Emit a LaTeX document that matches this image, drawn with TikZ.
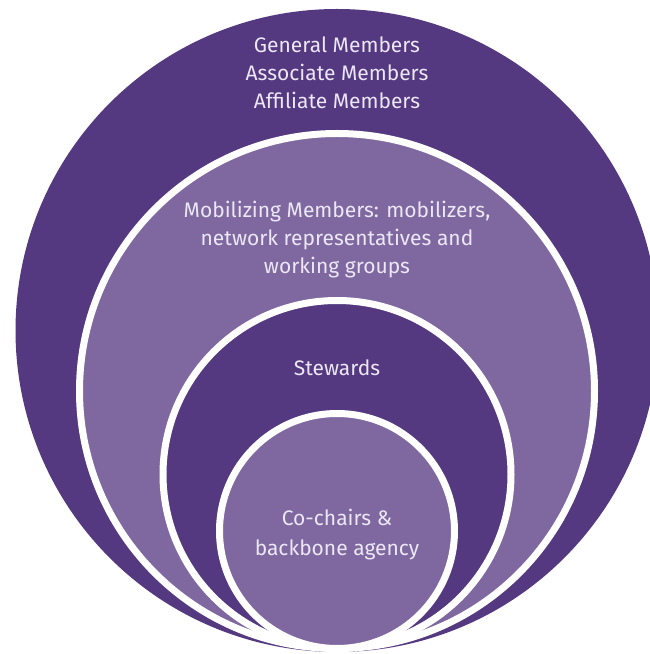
\documentclass[tikz,border=0pt]{standalone}
\usepackage{fontspec}
\setmainfont{Fira Sans}
\usepackage{tikz}
\usetikzlibrary{positioning}
\definecolor{darkplum}{RGB}{84,56,128}
\definecolor{lightplum}{RGB}{127,104,160}
\definecolor{paletext}{RGB}{236,231,245}
\tikzset{
    x=1pt, y=1pt, % one pixel of the reference is one point
    disc/.style={circle, inner sep=0pt, outer sep=0pt}, % plain filled circle
    ring/.style={disc, draw=white, line width=7pt}, % circle with a white rim
    tier/.style={text=paletext, align=center, font=\fontsize{21}{28}\selectfont}, % label of one tier
    }
\begin{document}
\begin{tikzpicture}
        \useasboundingbox (0,0) rectangle (650,654);

        \node[disc, fill=darkplum, minimum size=643pt] (general) at (337,323.5) {};
        \node[ring, fill=lightplum, minimum size=515pt] (mobilizing) at (337,263) {};
        \node[ring, fill=darkplum, minimum size=348pt] (stewards) at (337,179.5) {};
        \node[ring, fill=lightplum, minimum size=235pt] (cochairs) at (337,123) {};

        \node[tier] (generaltext) at (337,581) {General Members\\Associate Members\\Affiliate Members};
        \node[tier] (mobilizingtext) at (337,414) {Mobilizing Members: mobilizers,\\network representatives and\\working groups};
        \node[tier] (stewardstext) at (337,286) {Stewards};
        \node[tier, font=\fontsize{21}{30}\selectfont] (cochairstext) at (337,119) {Co-chairs \&\\backbone agency};
    \end{tikzpicture}
\end{document}
